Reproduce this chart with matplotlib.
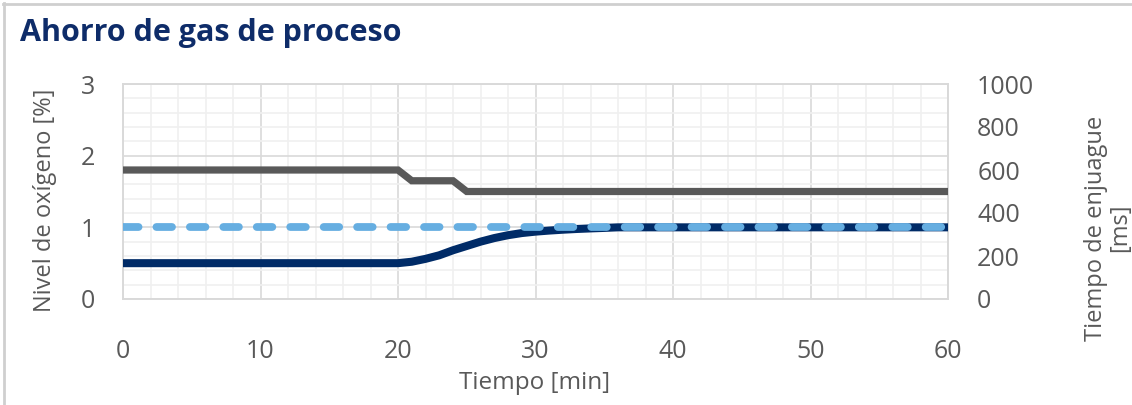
import matplotlib
matplotlib.use("Agg")
import matplotlib.pyplot as plt
from matplotlib.ticker import MultipleLocator
from matplotlib.lines import Line2D

plt.rcParams['font.family'] = ['Open Sans', 'DejaVu Sans']

# Oxygen level in process gas [%]
t_oxygen = [0, 20, 21, 22, 23, 24, 25, 26, 27, 28, 29, 30, 31, 32, 33, 34, 35, 36, 60]
oxygen = [0.5, 0.5, 0.52, 0.56, 0.61, 0.68, 0.74, 0.80, 0.85, 0.89, 0.92, 0.94, 0.955, 0.967, 0.977, 0.985, 0.992, 1.0, 1.0]

# Oxygen target level [%]
t_target = [0, 60]
target = [1.0, 1.0]

# Rinse time [ms]
t_rinse = [0, 20, 21, 24, 25, 60]
rinse = [600, 600, 550, 550, 500, 500]

x_ticks = [0, 10, 20, 30, 40, 50, 60]
left_ticks = [0, 1, 2, 3]
right_ticks = [0, 200, 400, 600, 800, 1000]

title = "Ahorro de gas de proceso"
x_label = "Tiempo [min]"
left_label = "Nivel de oxígeno [%]"
right_label = "Tiempo de enjuague\n[ms]"

NAVY = "#002B67"
GRAY = "#595959"
LIGHT = "#66AEE1"
TEXT = "#595959"
TITLE = "#0E2C69"

fig = plt.figure(figsize=(11.32, 4.05), dpi=100)
ax = fig.add_axes([123 / 1132, 1 - 299 / 405, (948 - 123) / 1132, (299 - 84) / 405])
ax2 = ax.twinx()

ax.set_xlim(0, 60)
ax.set_ylim(0, 3)
ax2.set_ylim(0, 1000)

ax.xaxis.set_major_locator(MultipleLocator(10))
ax.xaxis.set_minor_locator(MultipleLocator(2))
ax.yaxis.set_major_locator(MultipleLocator(1))
ax.yaxis.set_minor_locator(MultipleLocator(0.2))
ax.set_xticks(x_ticks)
ax.set_yticks(left_ticks)
ax2.set_yticks(right_ticks)

ax.grid(which='major', color='#D9D9D9', linewidth=1.2)
ax.grid(which='minor', color='#F0F0F0', linewidth=1.2)
ax.set_axisbelow(True)

for a in (ax, ax2):
    for s in a.spines.values():
        s.set_color('#D9D9D9')
        s.set_linewidth(1.2)
    a.tick_params(which='both', length=0, labelsize=18, labelcolor=TEXT)
ax.tick_params(axis='y', pad=20)
ax.tick_params(axis='x', pad=29)
ax2.tick_params(axis='y', pad=21)

# Series: all drawn on the upper axes so the grid stays beneath them;
# the oxygen series use the left-axis scale.
ax2.plot(t_rinse, rinse, color=GRAY, linewidth=5.2, solid_joinstyle='miter', zorder=3)
ax2.plot(t_oxygen, oxygen, color=NAVY, linewidth=5.8, solid_capstyle='butt', zorder=3,
         transform=ax.transData)
ax2.plot(t_target, target, color=LIGHT, linewidth=5.6, dash_capstyle='round',
         dashes=(2.0, 2.3), zorder=4, transform=ax.transData)

# Axis titles
fig.text(535 / 1132, 1 - 383 / 405, x_label, ha='center', va='center', fontsize=17.5, color=TEXT)
fig.text(45 / 1132, 1 - 200 / 405, left_label, ha='center', va='center', rotation=90,
         fontsize=17, color=TEXT)
fig.text(1108 / 1132, 1 - 228 / 405, right_label, ha='center', va='center', rotation=90,
         fontsize=17, color=TEXT, linespacing=1.0)

# Chart title
fig.text(20 / 1132, 1 - 33 / 405, title, ha='left', va='center', fontsize=22,
         fontweight='bold', color=TITLE)

# Chart frame
fig.add_artist(Line2D([3 / 1132, 1], [1 - 3.5 / 405, 1 - 3.5 / 405], transform=fig.transFigure,
                      color='#CFCFCF', linewidth=2))
fig.add_artist(Line2D([3.5 / 1132, 3.5 / 1132], [0, 1 - 3 / 405], transform=fig.transFigure,
                      color='#CFCFCF', linewidth=2))

fig.savefig("out.png", dpi=100)
